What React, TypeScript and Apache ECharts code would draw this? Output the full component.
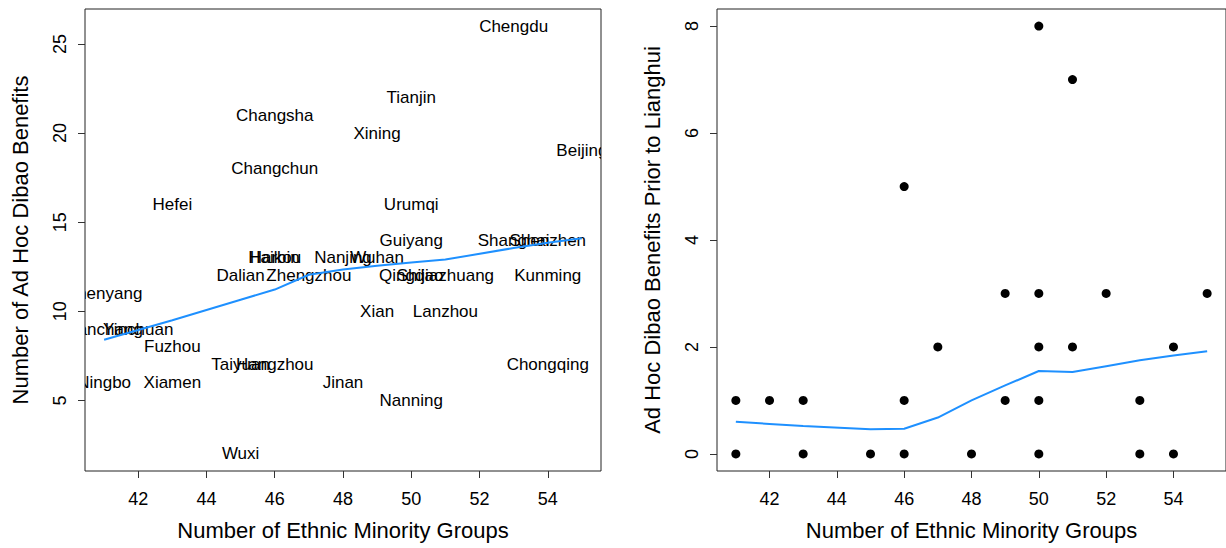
import React, { useEffect, useRef } from "react";
import * as echarts from "echarts";

// Left panel: city labels
const cities = [
  "Chengdu", "Tianjin", "Changsha", "Xining", "Beijing", "Changchun", "Hefei", "Urumqi",
  "Guiyang", "Shanghai", "Shenzhen", "Haikou", "Harbin", "Nanjing", "Wuhan", "Dalian",
  "Zhengzhou", "Qingdao", "Shijiazhuang", "Kunming", "Shenyang", "Xian", "Lanzhou",
  "Nanchang", "Yinchuan", "Fuzhou", "Taiyuan", "Hangzhou", "Chongqing", "Ningbo",
  "Xiamen", "Jinan", "Nanning", "Wuxi",
];
const cityGroups = [
  53, 50, 46, 49, 55, 46, 43, 50,
  50, 53, 54, 46, 46, 48, 49, 45,
  47, 50, 51, 54, 41, 49, 51,
  41, 42, 43, 45, 46, 54, 41,
  43, 48, 50, 45,
];
const cityBenefits = [
  26, 22, 21, 20, 19, 18, 16, 16,
  14, 14, 14, 13, 13, 13, 13, 12,
  12, 12, 12, 12, 11, 10, 10,
  9, 9, 8, 7, 7, 7, 6,
  6, 6, 5, 2,
];

// Left panel smoother
const smoothLeftX = [41, 42, 43, 45, 46, 47, 48, 49, 50, 51, 53, 54, 55];
const smoothLeftY = [8.4, 8.95, 9.5, 10.65, 11.22, 12.05, 12.35, 12.55, 12.74, 12.9, 13.55, 13.85, 14.1];

// Right panel points
const priorX = [41, 41, 42, 43, 43, 45, 46, 46, 46, 47, 48, 49, 49, 50, 50, 50, 50, 50, 51, 51, 52, 53, 53, 54, 54, 55];
const priorY = [1, 0, 1, 1, 0, 0, 5, 1, 0, 2, 0, 3, 1, 8, 3, 2, 1, 0, 7, 2, 3, 1, 0, 2, 0, 3];

// Right panel smoother
const smoothRightX = [41, 42, 43, 45, 46, 47, 48, 49, 50, 51, 52, 53, 54, 55];
const smoothRightY = [0.6, 0.56, 0.52, 0.46, 0.47, 0.68, 1.0, 1.28, 1.55, 1.53, 1.64, 1.75, 1.84, 1.92];

// Ticks
const xTicks = [42, 44, 46, 48, 50, 52, 54];
const leftYTicks = [5, 10, 15, 20, 25];
const rightYTicks = [0, 2, 4, 6, 8];

const FONT = '"Liberation Sans", Arial, Helvetica, sans-serif';

function xAxisCfg(gridIndex: number) {
  return {
    gridIndex,
    type: "value",
    min: 40.44,
    max: 55.56,
    name: "Number of Ethnic Minority Groups",
    nameLocation: "middle",
    nameGap: 48,
    nameTextStyle: { fontSize: 22, color: "#000", fontFamily: FONT },
    axisLine: { show: false, onZero: false },
    axisTick: { show: true, length: 7, customValues: xTicks, lineStyle: { color: "#333" } },
    axisLabel: { customValues: xTicks, fontSize: 18, color: "#000", margin: 19, fontFamily: FONT },
    splitLine: { show: false },
  };
}

function yAxisCfg(gridIndex: number, min: number, max: number, ticks: number[], name: string) {
  return {
    gridIndex,
    type: "value",
    min,
    max,
    name,
    nameLocation: "middle",
    nameGap: 54,
    nameTextStyle: { fontSize: 22, color: "#000", fontFamily: FONT },
    axisLine: { show: false, onZero: false },
    axisTick: { show: true, length: 7, customValues: ticks, lineStyle: { color: "#333" } },
    axisLabel: { customValues: ticks, fontSize: 18, color: "#000", margin: 16, rotate: 90, fontFamily: FONT },
    splitLine: { show: false },
  };
}

export default function App() {
  const ref = useRef<HTMLDivElement>(null);
  useEffect(() => {
    if (!ref.current) return;
    const chart = echarts.init(ref.current, undefined, { renderer: "svg" });
    const cityData = cities.map((c, i) => [cityGroups[i], cityBenefits[i], i]);
    const option = {
      animation: false,
      backgroundColor: "#fff",
      textStyle: { fontFamily: FONT },
      grid: [
        { left: 85, top: 9, width: 516, height: 462, show: true, borderColor: "#222", borderWidth: 1, backgroundColor: "transparent" },
        { left: 717, top: 9, width: 516, height: 462, show: true, borderColor: "#222", borderWidth: 1, backgroundColor: "transparent" },
      ],
      xAxis: [xAxisCfg(0), xAxisCfg(1)],
      yAxis: [
        yAxisCfg(0, 1.04, 26.96, leftYTicks, "Number of Ad Hoc Dibao Benefits"),
        yAxisCfg(1, -0.32, 8.32, rightYTicks, "Ad Hoc Dibao Benefits Prior to Lianghui"),
      ],
      series: [
        {
          type: "custom",
          xAxisIndex: 0,
          yAxisIndex: 0,
          clip: true,
          renderItem: (params: any, api: any) => {
            const pt = api.coord([api.value(0), api.value(1)]);
            const idx = api.value(2);
            return {
              type: "text",
              x: pt[0],
              y: pt[1],
              style: {
                text: cities[idx],
                fontSize: 17,
                fontFamily: FONT,
                fill: "#000",
                align: "center",
                verticalAlign: "middle",
              },
            };
          },
          encode: { x: 0, y: 1 },
          data: cityData,
        },
        {
          type: "line",
          xAxisIndex: 0,
          yAxisIndex: 0,
          symbol: "none",
          lineStyle: { color: "#1E90FF", width: 2 },
          data: smoothLeftX.map((x, i) => [x, smoothLeftY[i]]),
        },
        {
          type: "scatter",
          xAxisIndex: 1,
          yAxisIndex: 1,
          symbol: "circle",
          symbolSize: 9,
          itemStyle: { color: "#000", opacity: 1 },
          data: priorX.map((x, i) => [x, priorY[i]]),
        },
        {
          type: "line",
          xAxisIndex: 1,
          yAxisIndex: 1,
          symbol: "none",
          lineStyle: { color: "#1E90FF", width: 2 },
          data: smoothRightX.map((x, i) => [x, smoothRightY[i]]),
        },
      ],
    };
    chart.setOption(option as any);
    return () => chart.dispose();
  }, []);
  return (
    <div
      ref={ref}
      style={{ position: "absolute", left: 0, top: 0, width: 1226, height: 548 }}
    />
  );
}
